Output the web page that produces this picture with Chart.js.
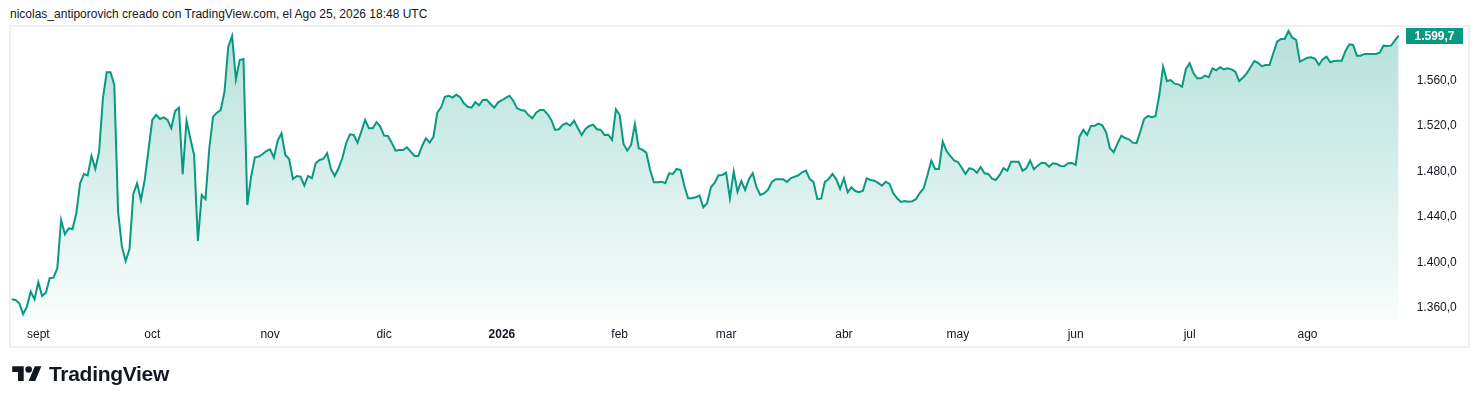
<!DOCTYPE html>
<html>
<head>
<meta charset="utf-8">
<script src="https://cdn.jsdelivr.net/npm/chart.js@4.4.1/dist/chart.umd.min.js"></script>
<style>
    html, body { margin: 0; padding: 0; background: #fff; }
    body { width: 1478px; height: 407px; position: relative; overflow: hidden; font-family: "Liberation Sans", Arial, sans-serif; }
    #header { position: absolute; left: 10px; top: 7px; font-size: 12px; color: #131722; white-space: nowrap; }
    #frame { position: absolute; left: 9px; top: 25px; width: 1461px; height: 323px; box-sizing: border-box; border: 2px solid #eef0f3; }
    #wrap { position: absolute; left: 0; top: 0; width: 1478px; height: 407px; }
    #logo { position: absolute; left: 12px; top: 362px; display: flex; align-items: center; }
    #logo span { font-size: 21px; font-weight: bold; color: #131722; margin-left: 7px; letter-spacing: -0.3px; }
</style>
</head>
<body>
<div id="header">nicolas_antiporovich creado con TradingView.com, el Ago 25, 2026 18:48 UTC</div>
<div id="frame"></div>
<div id="wrap"><canvas id="chartPrice" width="1478" height="407"></canvas></div>
<div id="logo">
    <svg width="30" height="23" viewBox="0 0 36 28">
        <path d="M14 22H7V11H0V4h14v18z" fill="#131722"/>
        <circle cx="20" cy="8" r="4" fill="#131722"/>
        <path d="M28 22h-8l7.5-18h8z" fill="#131722"/>
    </svg>
    <span>TradingView</span>
</div>

<script>
// -------------------------------------------------------
// Daily closes, Aug 25 2025 -> Aug 25 2026 (one value per day)
// -------------------------------------------------------
const START_DATE = Date.UTC(2025, 7, 25);

const aug2025 = [1367.8, 1367.2, 1364.3, 1354.7, 1361.4, 1374.5, 1367.8];
const sep2025 = [1382.8, 1370.8, 1373.7, 1386.3, 1386.8, 1395.0, 1437.5, 1425.0, 1430.2, 1429.6,
                 1443.4, 1469.8, 1478.0, 1476.8, 1493.8, 1482.4, 1497.6, 1544.5, 1567.4, 1567.4,
                 1556.2, 1444.8, 1414.1, 1401.5, 1412.0, 1460.4, 1469.8, 1455.1, 1472.7, 1499.1];
const oct2025 = [1525.5, 1529.9, 1526.3, 1527.8, 1525.5, 1518.2, 1533.4, 1536.3, 1477.7, 1524.8,
                 1509.4, 1494.7, 1419.1, 1459.5, 1455.8, 1500.6, 1528.4, 1531.9, 1534.2, 1550.3,
                 1589.9, 1599.3, 1561.2, 1578.2, 1579.1, 1450.7, 1475.6, 1492.6, 1493.2, 1495.3,
                 1498.2];
const nov2025 = [1499.7, 1492.3, 1507.3, 1513.8, 1494.7, 1491.2, 1473.6, 1476.2, 1475.6, 1467.7,
                 1476.2, 1474.2, 1487.4, 1490.3, 1491.2, 1496.2, 1482.4, 1476.2, 1483.0, 1491.8,
                 1504.8, 1512.9, 1512.3, 1505.5, 1515.2, 1525.5, 1518.2, 1518.2, 1523.5, 1519.6];
const dec2025 = [1511.7, 1511.4, 1505.5, 1498.5, 1499.1, 1499.1, 1501.5, 1497.6, 1493.8, 1493.8,
                 1502.6, 1509.4, 1505.5, 1510.8, 1531.9, 1536.6, 1545.9, 1546.8, 1545.1, 1547.7,
                 1545.4, 1540.1, 1537.1, 1536.3, 1541.0, 1538.4, 1543.0, 1543.3, 1539.5, 1536.3,
                 1541.0];
const jan2026 = [1542.8, 1544.8, 1546.8, 1542.4, 1535.7, 1534.2, 1533.6, 1529.8, 1527.0, 1531.9,
                 1534.2, 1534.2, 1530.7, 1525.5, 1516.7, 1517.3, 1521.1, 1522.6, 1520.4, 1524.8,
                 1518.2, 1512.3, 1517.5, 1520.2, 1521.3, 1517.3, 1516.7, 1512.3, 1512.5, 1507.9,
                 1534.9];
const feb2026 = [1529.8, 1504.4, 1498.5, 1503.5, 1521.9, 1500.6, 1499.1, 1496.7, 1481.5, 1470.7,
                 1470.7, 1471.2, 1469.8, 1478.6, 1478.0, 1482.4, 1481.5, 1467.7, 1456.6, 1456.6,
                 1457.5, 1458.9, 1448.7, 1452.2, 1466.3, 1470.3, 1476.8, 1477.1];
const mar2026 = [1479.1, 1456.6, 1480.0, 1462.4, 1471.8, 1463.9, 1473.3, 1478.6, 1466.3, 1459.5,
                 1461.0, 1463.9, 1470.7, 1473.3, 1473.3, 1473.3, 1471.0, 1474.2, 1475.6, 1476.8,
                 1479.5, 1480.9, 1473.6, 1471.0, 1456.0, 1456.3, 1471.0, 1473.6, 1478.0, 1473.3,
                 1464.8];
const apr2026 = [1474.2, 1461.9, 1466.3, 1463.0, 1461.9, 1463.3, 1474.2, 1472.7, 1472.1, 1470.1,
                 1467.7, 1471.2, 1469.2, 1461.0, 1456.6, 1453.4, 1454.3, 1453.6, 1454.0, 1456.0,
                 1461.3, 1465.4, 1477.1, 1489.7, 1482.4, 1482.4, 1506.4, 1498.2, 1493.8, 1490.0];
const may2026 = [1488.5, 1483.5, 1478.0, 1483.0, 1482.1, 1479.1, 1484.1, 1478.6, 1478.0, 1473.9,
                 1472.7, 1477.1, 1483.0, 1480.9, 1488.8, 1488.8, 1488.8, 1480.9, 1483.0, 1489.7,
                 1482.1, 1485.3, 1487.9, 1487.4, 1484.4, 1487.4, 1486.8, 1485.0, 1484.8, 1487.4,
                 1487.7];
const jun2026 = [1485.9, 1510.8, 1516.7, 1512.3, 1520.2, 1520.4, 1522.2, 1520.8, 1514.6, 1500.6,
                 1497.1, 1504.6, 1511.7, 1509.6, 1508.5, 1505.5, 1505.0, 1515.2, 1526.3, 1529.0,
                 1527.8, 1528.7, 1547.4, 1572.3, 1559.7, 1560.6, 1557.4, 1556.8, 1554.7, 1570.3];
const jul2026 = [1575.3, 1566.5, 1562.1, 1562.1, 1564.4, 1563.0, 1570.9, 1569.1, 1571.8, 1570.0,
                 1570.9, 1570.0, 1567.9, 1559.7, 1562.6, 1566.5, 1571.8, 1577.3, 1575.6, 1572.7,
                 1573.8, 1573.8, 1584.1, 1594.3, 1596.7, 1596.7, 1603.7, 1597.8, 1595.8, 1576.7,
                 1578.5];
const aug2026 = [1580.2, 1580.6, 1579.3, 1573.8, 1578.8, 1581.1, 1576.2, 1577.3, 1577.6, 1577.6,
                 1586.1, 1592.0, 1591.4, 1582.0, 1582.0, 1583.5, 1583.5, 1583.5, 1583.5, 1584.6,
                 1590.8, 1590.5, 1590.8, 1595.5, 1599.7];

// month names as TradingView (es) prints them; January shows the year
const monthNames = ['ene', 'feb', 'mar', 'abr', 'may', 'jun', 'jul', 'ago', 'sept', 'oct', 'nov', 'dic'];
const yTicks = [1360, 1400, 1440, 1480, 1520, 1560];

const GREEN = '#089981';
const TEXT = '#131722';
const FONT = '"Liberation Sans", Arial, sans-serif';

const prices = [].concat(aug2025, sep2025, oct2025, nov2025, dec2025, jan2026,
                         feb2026, mar2026, apr2026, may2026, jun2026, jul2026, aug2026);
const dates = prices.map((_, i) => new Date(START_DATE + i * 86400000));
const labels = dates.map(d => d.toISOString().slice(0, 10));

function monthLabel(i) {
    const d = dates[i];
    if (!d || d.getUTCDate() !== 1) return null;
    return d.getUTCMonth() === 0 ? String(d.getUTCFullYear()) : monthNames[d.getUTCMonth()];
}

// 1.560,0 style
function fmt(v, dec) {
    const parts = v.toFixed(dec).split('.');
    parts[0] = parts[0].replace(/\B(?=(\d{3})+(?!\d))/g, '.');
    return parts.join(',');
}

// -------------------------------------------------------
// Last price badge on the right scale
// -------------------------------------------------------
const lastBadge = {
    id: 'lastBadge',
    afterDraw(chart) {
        const y = chart.scales.y.getPixelForValue(prices[prices.length - 1]);
        const ctx = chart.ctx;
        ctx.save();
        ctx.fillStyle = GREEN;
        ctx.fillRect(1406, Math.round(y) - 8, 57, 16);
        ctx.fillStyle = '#fff';
        ctx.font = 'bold 12px ' + FONT;
        ctx.textAlign = 'center';
        ctx.textBaseline = 'middle';
        ctx.fillText(fmt(prices[prices.length - 1], 1), 1434.5, Math.round(y) + 0.5);
        ctx.restore();
    }
};

const canvas = document.getElementById('chartPrice');
new Chart(canvas.getContext('2d'), {
    type: 'line',
    data: {
        labels: labels,
        datasets: [{
            data: prices,
            borderColor: GREEN,
            borderWidth: 2,
            pointRadius: 0,
            tension: 0,
            fill: 'start',
            backgroundColor: ctx => {
                const area = ctx.chart.chartArea;
                if (!area) return 'rgba(8,153,129,0.15)';
                const g = ctx.chart.ctx.createLinearGradient(0, area.top, 0, area.bottom);
                g.addColorStop(0, 'rgba(8,153,129,0.30)');
                g.addColorStop(1, 'rgba(8,153,129,0.02)');
                return g;
            }
        }]
    },
    options: {
        responsive: false,
        animation: false,
        layout: { padding: { left: 11.7, right: 11.3, top: 27, bottom: 61 } },
        plugins: { legend: { display: false }, tooltip: { enabled: false } },
        scales: {
            x: {
                type: 'category',
                grid: { display: false, drawTicks: false },
                border: { display: false },
                afterFit: s => { s.height = 26; },
                afterBuildTicks: s => { s.ticks = s.ticks.filter(t => monthLabel(t.value) !== null); },
                ticks: {
                    autoSkip: false,
                    maxRotation: 0,
                    padding: 7,
                    color: TEXT,
                    font: c => ({ family: FONT, size: 12, weight: (c.tick && monthLabel(c.tick.value) === '2026') ? 'bold' : 'normal' }),
                    callback: v => monthLabel(v)
                }
            },
            y: {
                position: 'right',
                min: 1349.6,
                max: 1607.2,
                grid: { display: false, drawTicks: false },
                border: { display: false },
                afterFit: s => { s.width = 68; },
                afterBuildTicks: s => { s.ticks = yTicks.map(v => ({ value: v })); },
                ticks: {
                    padding: 18,
                    color: TEXT,
                    font: { family: FONT, size: 12 },
                    callback: v => fmt(v, 1)
                }
            }
        }
    },
    plugins: [lastBadge]
});
</script>
</body>
</html>
